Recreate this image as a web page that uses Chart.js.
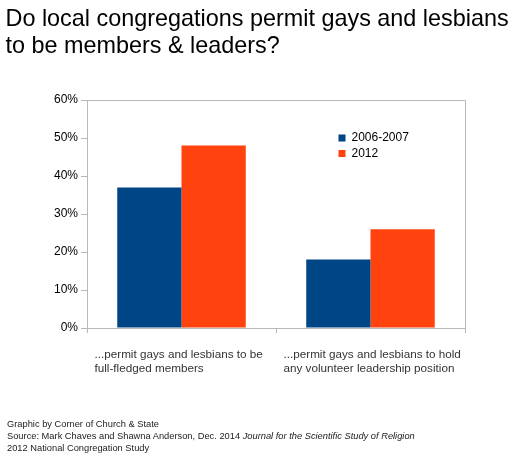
<!DOCTYPE html>
<html>
<head>
<meta charset="utf-8">
<script src="https://cdn.jsdelivr.net/npm/chart.js@4.4.1/dist/chart.umd.min.js"></script>
<style>
  html, body { margin: 0; padding: 0; background: #fff; }
  body { width: 525px; height: 459px; position: relative; overflow: hidden; font-family: "Liberation Sans", Arial, sans-serif; }
  #wrap { position: absolute; left: 0; top: 0; width: 525px; height: 459px; }
  #titulo { position: absolute; left: 5.5px; top: 4.5px; font-size: 23.4px; line-height: 27px; color: #000; margin: 0; font-weight: normal; white-space: nowrap; }
  #pie { position: absolute; left: 7px; top: 418px; font-size: 9.3px; line-height: 12px; color: #222; white-space: nowrap; }
</style>
</head>
<body>
<div id="wrap"><canvas id="grafico" width="525" height="459"></canvas></div>
<h1 id="titulo">Do local congregations permit gays and lesbians<br>to be members &amp; leaders?</h1>
<div id="pie">
  Graphic by Corner of Church &amp; State<br>
  Source: Mark Chaves and Shawna Anderson, Dec. 2014 <i>Journal for the Scientific Study of Religion</i><br>
  2012 National Congregation Study
</div>
<script>
const categorias = [
    ['...permit gays and lesbians to be', 'full-fledged members'],
    ['...permit gays and lesbians to hold', 'any volunteer leadership position']
];
const serieLabels = ['2006-2007', '2012'];
const valores2006 = [37, 18];
const valores2012 = [48, 26];
const yMax = 60;
const yStep = 10;

const AZUL = '#004586';
const NARANJA = '#ff420e';
const GRIS = '#b8b8b8';
const FUENTE = '"Liberation Sans", Arial, sans-serif';

// marco superior y derecho del area del grafico
const marco = {
    id: 'marco',
    beforeDatasetsDraw(chart) {
        const { ctx, chartArea: a } = chart;
        ctx.save();
        ctx.strokeStyle = GRIS;
        ctx.lineWidth = 1;
        ctx.beginPath();
        ctx.moveTo(a.left, a.top + 0.5);
        ctx.lineTo(a.right + 0.5, a.top + 0.5);
        ctx.lineTo(a.right + 0.5, a.bottom);
        ctx.stroke();
        ctx.restore();
    }
};

// leyenda dentro del area, arriba a la derecha
const moverLeyenda = {
    id: 'moverLeyenda',
    afterLayout(chart) {
        const lg = chart.legend;
        if (!lg) return;
        const w = lg.width, h = lg.height;
        lg.left = 335;
        lg.top = 128.5;
        lg.right = lg.left + w;
        lg.bottom = lg.top + h;
    }
};

new Chart(document.getElementById('grafico'), {
    type: 'bar',
    data: {
        labels: categorias,
        datasets: [
            { label: serieLabels[0], data: valores2006, backgroundColor: AZUL, borderWidth: 0 },
            { label: serieLabels[1], data: valores2012, backgroundColor: NARANJA, borderWidth: 0 }
        ]
    },
    options: {
        responsive: false,
        animation: false,
        events: [],
        layout: { padding: { top: 100, right: 60, left: 0, bottom: 0 } },
        datasets: { bar: { categoryPercentage: 0.68, barPercentage: 1.0 } },
        plugins: {
            title: { display: false },
            tooltip: { enabled: false },
            legend: {
                position: 'chartArea',
                align: 'start',
                labels: {
                    boxWidth: 7,
                    boxHeight: 7,
                    padding: 3.5,
                    color: '#000',
                    font: { family: FUENTE, size: 12 }
                }
            }
        },
        scales: {
            x: {
                grid: { drawOnChartArea: false, drawTicks: true, tickLength: 5, color: GRIS, offset: true },
                border: { display: true, color: GRIS },
                ticks: {
                    align: 'start',
                    labelOffset: -87,
                    padding: 15,
                    maxRotation: 0,
                    autoSkip: false,
                    color: '#333',
                    font: { family: FUENTE, size: 11.7, lineHeight: 1.2 }
                },
                afterFit(scale) {
                    scale.height = 131;
                    scale.paddingLeft = 0;
                    scale.paddingRight = 0;
                }
            },
            y: {
                min: 0,
                max: yMax,
                grid: { drawOnChartArea: false, drawTicks: true, tickLength: 6, color: GRIS },
                border: { display: true, color: GRIS },
                ticks: {
                    stepSize: yStep,
                    padding: 3,
                    color: '#000',
                    font: { family: FUENTE, size: 12 },
                    callback: v => v + '%'
                },
                afterFit(scale) {
                    scale.width = 87;
                    scale.paddingTop = 0;
                    scale.paddingBottom = 0;
                }
            }
        }
    },
    plugins: [marco, moverLeyenda]
});
</script>
</body>
</html>
